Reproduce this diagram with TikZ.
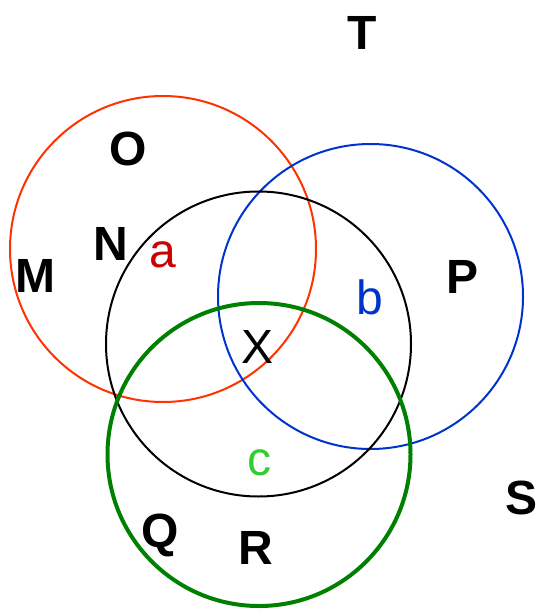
\documentclass[tikz,border=0pt]{standalone}
\usepackage{fontspec}
\setmainfont{Liberation Sans}
\definecolor{cred}{HTML}{FF3300}
\definecolor{cblue}{HTML}{0033CC}
\definecolor{cgreen}{HTML}{008000}
\definecolor{lred}{HTML}{CC0000}
\definecolor{lgreen}{HTML}{33CC33}
\begin{document}
\begin{tikzpicture}[x=1pt,y=-1pt,
  lab/.style={inner sep=0pt,anchor=base,font=\fontsize{48}{48}\selectfont\bfseries},
  sym/.style={inner sep=0pt,anchor=base,font=\fontsize{48}{48}\selectfont},
  ring/.style={line width=2pt}]
\useasboundingbox (0,0) rectangle (538,612);
\draw[ring,cred] (163,249) circle[radius=153pt];
\draw[ring,cblue] (370.5,296.5) circle[radius=152.5pt];
\draw[ring,black] (258.5,344) circle[radius=152.5pt];
\draw[line width=4pt,cgreen] (259,454.5) circle[radius=151.5pt];
\node[lab] (T) at (362,50) {T};
\node[lab] (O) at (128,166) {O};
\node[lab] (N) at (111,260) {N};
\node[lab] (M) at (35,292) {M};
\node[lab] (P) at (462,293) {P};
\node[lab] (S) at (521,514) {S};
\node[lab] (Q) at (160,547) {Q};
\node[lab] (R) at (256,564) {R};
\node[sym,lred] (a) at (163,267) {a};
\node[sym,cblue] (b) at (370,314) {b};
\node[sym,black] (X) at (258,363) {X};
\node[sym,lgreen] (c) at (259,475) {c};
\end{tikzpicture}
\end{document}
